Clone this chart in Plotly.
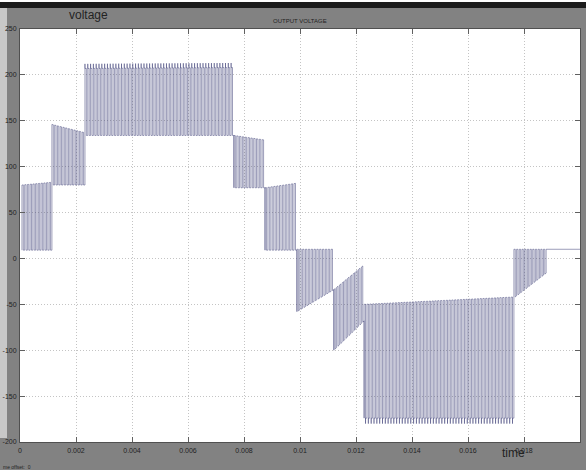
import plotly.graph_objects as go

# ---- data (multilevel inverter output voltage) ----
seg_t_start = [0.00007, 0.00114, 0.00232, 0.00764, 0.00875, 0.00989, 0.01121, 0.01229, 0.01764]
seg_t_end   = [0.00114, 0.00232, 0.00764, 0.00875, 0.00989, 0.01121, 0.01229, 0.01764, 0.01879]
seg_hi_start = [80, 146, 207, 134, 77, 10, -34, -50, 10]
seg_hi_end   = [83, 137, 208, 129, 82, 10, -7, -42, 10]
seg_lo_start = [9, 80, 134, 77, 9, -58, -100, -174, -43]
seg_lo_end   = [9, 80, 134, 77, 9, -34, -68, -174, -16]
seg_hi_spike = [0, 0, 5, 0, 0, 0, 0, 0, 0]
seg_lo_spike = [0, 0, 0, 0, 0, 0, 0, 6, 0]
switch_period = 0.0001
tail_time = [0.01879, 0.02]
tail_value = [10, 10]

x_ticks = [0, 0.002, 0.004, 0.006, 0.008, 0.01, 0.012, 0.014, 0.016, 0.018, 0.02]
x_tick_text = ["0", "0.002", "0.004", "0.006", "0.008", "0.01", "0.012", "0.014", "0.016", "0.018", "0.02"]
y_ticks = [-200, -150, -100, -50, 0, 50, 100, 150, 200, 250]
y_tick_text = ["-200", "-150", "-100", "-50", "0", "50", "100", "150", "200", "250"]

# ---- build switching waveform from segment data ----
xs, ys = [], []
for i in range(len(seg_t_start)):
    t0, t1 = seg_t_start[i], seg_t_end[i]
    n = max(1, round((t1 - t0) / switch_period))
    per = (t1 - t0) / n
    for k in range(n):
        ta = t0 + k * per
        tb = ta + per / 2
        fa = (ta - t0) / (t1 - t0)
        fb = (tb - t0) / (t1 - t0)
        hi_a = seg_hi_start[i] + (seg_hi_end[i] - seg_hi_start[i]) * fa
        lo_a = seg_lo_start[i] + (seg_lo_end[i] - seg_lo_start[i]) * fa
        hi_b = seg_hi_start[i] + (seg_hi_end[i] - seg_hi_start[i]) * fb
        lo_b = seg_lo_start[i] + (seg_lo_end[i] - seg_lo_start[i]) * fb
        xs += [ta, ta, ta, tb, tb, tb]
        ys += [lo_a, hi_a + seg_hi_spike[i], hi_a, hi_b, lo_b - seg_lo_spike[i], lo_b]
    xs.append(t1)
    ys.append(seg_lo_end[i])
xs += tail_time
ys += tail_value

W, H = 586, 470
L, R, T, B = 20, 6, 29, 28
pw, ph = W - L - R, H - T - B


def px(p):
    return (p - L) / pw


def py(p):
    return (H - B - p) / ph


fig = go.Figure()
fig.add_trace(go.Scatter(x=xs, y=ys, mode="lines",
                         line=dict(color="rgba(55,58,115,0.55)", width=0.9),
                         hoverinfo="skip", showlegend=False))

tickfont = dict(family="Liberation Sans Narrow, Liberation Sans, sans-serif", size=7, color="#222")
axis_common = dict(showline=True, linecolor="#505050", linewidth=1, mirror="ticks",
                   ticks="inside", ticklen=5, tickcolor="#606060", tickwidth=1,
                   showgrid=True, gridcolor="#c4c4c4", griddash="1px,2px", gridwidth=1,
                   zeroline=False, tickfont=tickfont, automargin=False)

fig.update_xaxes(range=[0, 0.02], tickvals=x_ticks, ticktext=x_tick_text, ticklabelstandoff=2, **axis_common)
fig.update_yaxes(range=[-200, 250], tickvals=y_ticks, ticktext=y_tick_text, ticklabelstandoff=1, **axis_common)

shapes = [
    dict(type="rect", xref="paper", yref="paper", x0=px(0), x1=px(W), y0=py(2), y1=py(8),
         fillcolor="#1c1c1c", line=dict(width=0), layer="above"),
    dict(type="rect", xref="paper", yref="paper", x0=px(0), x1=px(W), y0=py(0), y1=py(2),
         fillcolor="#ffffff", line=dict(width=0), layer="above"),
    dict(type="rect", xref="paper", yref="paper", x0=px(0), x1=px(7), y0=py(8), y1=py(438),
         fillcolor="#c8c8c8", line=dict(width=0), layer="below"),
]

annotations = [
    dict(text="voltage", xref="paper", yref="paper", x=px(88), y=py(15), showarrow=False,
         font=dict(family="Liberation Sans Narrow, sans-serif", size=12, color="#222"),
         xanchor="center", yanchor="middle"),
    dict(text="OUTPUT VOLTAGE", xref="paper", yref="paper", x=px(300), y=py(21), showarrow=False,
         font=dict(family="Liberation Sans Narrow, sans-serif", size=6, color="#222"),
         xanchor="center", yanchor="middle"),
    dict(text="time", xref="paper", yref="paper", x=px(513), y=py(453), showarrow=False,
         font=dict(family="Liberation Sans Narrow, sans-serif", size=12, color="#222"),
         xanchor="center", yanchor="middle"),
    dict(text="me offset:  0", xref="paper", yref="paper", x=px(1), y=py(467), showarrow=False,
         font=dict(family="Liberation Sans Narrow, sans-serif", size=5, color="#222"),
         xanchor="left", yanchor="middle"),
]

fig.update_layout(width=W, height=H, margin=dict(l=L, r=R, t=T, b=B),
                  paper_bgcolor="#828282", plot_bgcolor="#ffffff",
                  shapes=shapes, annotations=annotations, showlegend=False)

fig.write_html("out.html", config={"displayModeBar": False},
               post_script="document.body.style.margin='0';document.body.style.overflow='hidden';")
